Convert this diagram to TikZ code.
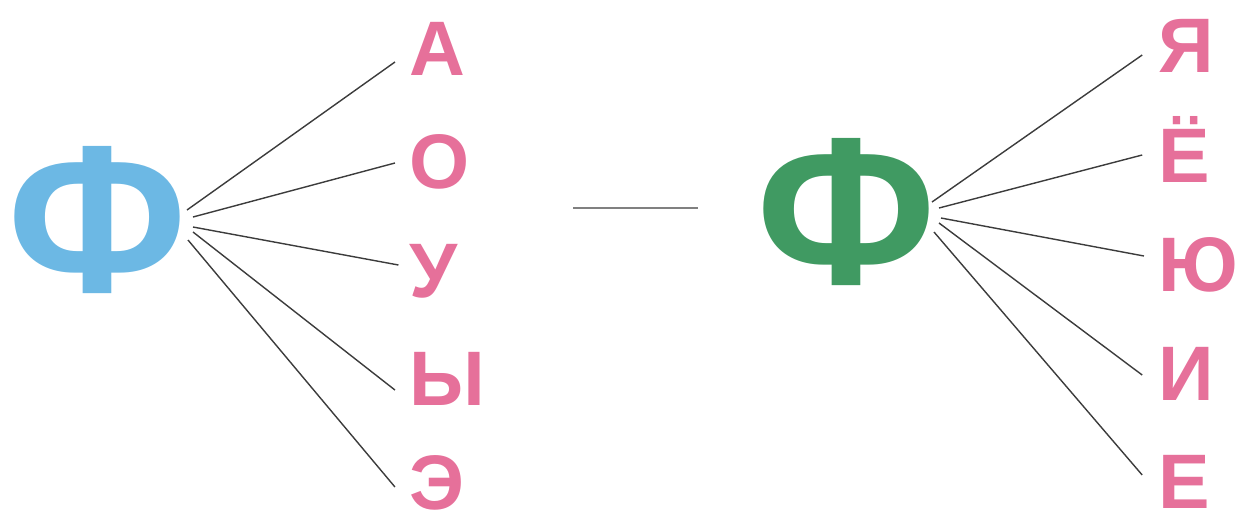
\documentclass[tikz,border=0pt]{standalone}
\usepackage{fontspec}
\setmainfont{Liberation Sans}
\usetikzlibrary{positioning}
\definecolor{fblue}{RGB}{108,184,228}
\definecolor{fgreen}{RGB}{64,154,98}
\definecolor{vpink}{RGB}{230,112,154}
\definecolor{lgray}{RGB}{60,60,60}

\begin{document}
\begin{tikzpicture}[x=0.02cm,y=-0.02cm]
\tikzstyle{big}=[inner sep=0pt,font=\fontsize{120}{120}\selectfont\bfseries]
\tikzstyle{vow}=[inner sep=0pt,anchor=base west,text=vpink,font=\fontsize{44}{44}\selectfont\bfseries]
\tikzstyle{ln}=[draw=lgray,line width=0.8pt]
\useasboundingbox (0,0) rectangle (1238,522);
% left group
\node[big,text=fblue] (fl) at (97,220) {Ф};
\node[vow] (a) at (409,75) {А}; \node[vow] (o) at (409,188) {О};
\node[vow] (u) at (409,297) {У}; \node[vow] (y) at (409,405) {Ы};
\node[vow] (e) at (409,509) {Э};
\coordinate (l1) at (187,210); \coordinate (l2) at (193,217); \coordinate (l3) at (193,227);
\coordinate (l4) at (193,232); \coordinate (l5) at (188,240);
\draw[ln] (l1) -- ([xshift=-8pt]a.west|-0,62); \draw[ln] (l2) -- ([xshift=-8pt]o.west|-0,163);
\draw[ln] (l3) -- ([xshift=-6pt]u.west|-0,265); \draw[ln] (l4) -- ([xshift=-8pt]y.west|-0,390);
\draw[ln] (l5) -- ([xshift=-8pt]e.west|-0,487);
% dash
\coordinate (d1) at (573,208); \coordinate (d2) at (698,208);
\draw[draw=gray,line width=1pt] (d1) -- (d2);
% right group
\node[big,text=fgreen] (fr) at (846,212) {Ф};
\node[vow] (ya) at (1158,72) {Я}; \node[vow] (yo) at (1158,182) {Ё};
\node[vow] (yu) at (1158,291) {Ю}; \node[vow] (i) at (1158,400) {И};
\node[vow] (ye) at (1158,508) {Е};
\coordinate (r1) at (932,202); \coordinate (r2) at (939,208); \coordinate (r3) at (941,218);
\coordinate (r4) at (939,223); \coordinate (r5) at (934,232);
\draw[ln] (r1) -- ([xshift=-9pt]ya.west|-0,55); \draw[ln] (r2) -- ([xshift=-9pt]yo.west|-0,155);
\draw[ln] (r3) -- ([xshift=-8pt]yu.west|-0,256); \draw[ln] (r4) -- ([xshift=-9pt]i.west|-0,375);
\draw[ln] (r5) -- ([xshift=-9pt]ye.west|-0,475);
\end{tikzpicture}
\end{document}
